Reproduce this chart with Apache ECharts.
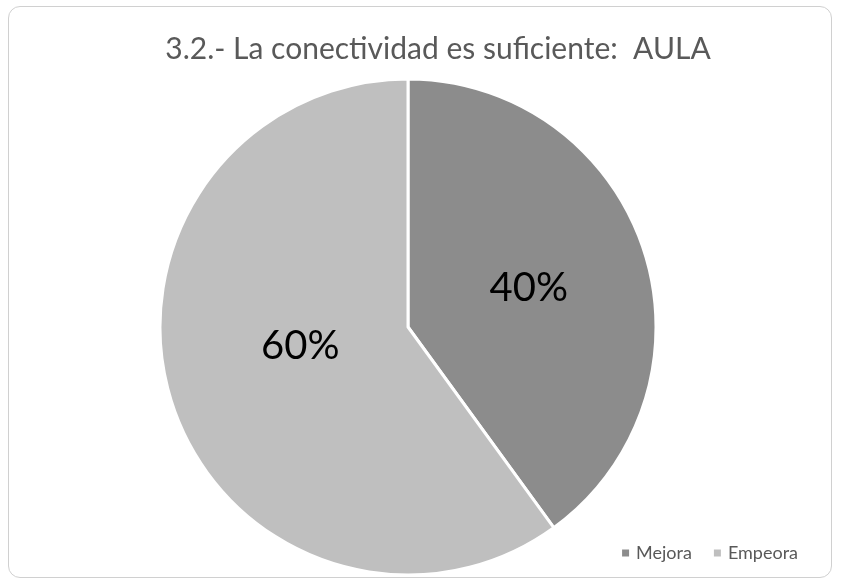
<!DOCTYPE html>
<html>
<head>
<meta charset="utf-8">
<script src="https://cdn.jsdelivr.net/npm/echarts@6/dist/echarts.min.js"></script>
<style>
  html, body { margin: 0; padding: 0; background: #fff; }
  #chart {
    position: absolute;
    left: 8px;
    top: 6px;
    width: 824px;
    height: 572px;
    border: 1.5px solid #d0d0d0;
    border-radius: 12px;
    box-sizing: border-box;
  }
</style>
</head>
<body>
<div id="chart"></div>
<script>
var categories = ['Mejora', 'Empeora']
var values = [40, 60]
var colors = ['#8c8c8c', '#bfbfbf']

var myChart = echarts.init(document.getElementById('chart'))

var option = {
  animation: false,
  title: {
    text: '3.2.- La conectividad es suficiente:  AULA',
    left: 424,
    textAlign: 'center',
    top: 22,
    textStyle: {
      fontFamily: 'Lato',
      fontWeight: 'normal',
      fontSize: 30,
      color: '#595959'
    }
  },
  legend: {
    data: categories,
    right: 28,
    bottom: 10,
    itemWidth: 9,
    itemHeight: 9,
    itemGap: 20,
    icon: 'rect',
    textStyle: {
      fontFamily: 'Lato',
      fontSize: 18,
      color: '#595959',
      padding: [0, 0, 0, 1]
    }
  },
  series: [
    {
      type: 'pie',
      center: [399, 320],
      radius: 248,
      startAngle: 90,
      clockwise: true,
      itemStyle: {
        borderColor: '#fff',
        borderWidth: 3
      },
      label: {
        position: 'inside',
        formatter: '{d}%',
        fontFamily: 'Lato',
        fontSize: 40,
        color: '#000'
      },
      labelLine: { show: false },
      data: categories.map(function (c, i) {
        var d = { name: c, value: values[i], itemStyle: { color: colors[i] } }
        if (i === 1) d.label = { offset: [13, -20] }
        return d
      })
    }
  ]
}
myChart.setOption(option)
</script>
</body>
</html>
